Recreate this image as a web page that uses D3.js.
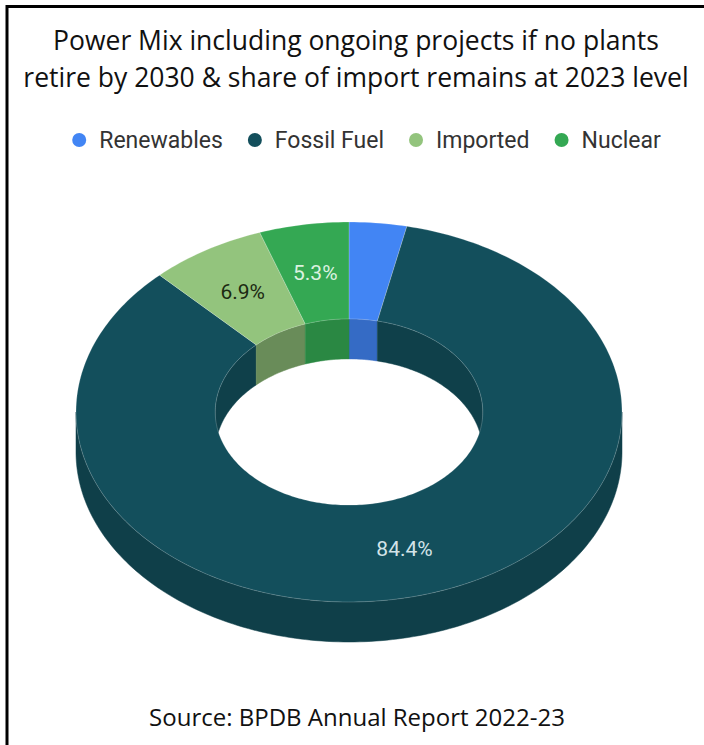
<!DOCTYPE html>
<html>
<head>
<meta charset="utf-8">
<script src="https://cdn.jsdelivr.net/npm/d3@7"></script>
<style>
  body { margin: 0; background: #fff; }
  svg { display: block; }
</style>
</head>
<body>
<div id="chart"></div>
<script>
// data
var categories = ["Renewables", "Fossil Fuel", "Imported", "Nuclear"];
var shares = [3.4, 84.4, 6.9, 5.3];
var titleLines = ["Power Mix including ongoing projects if no plants",
	"retire by 2030 & share of import remains at 2023 level"];
var sourceText = "Source: BPDB Annual Report 2022-23";

var colors = ["#4285f4", "#134f5c", "#93c47d", "#34a853"];
var labelColors = ["#ffffff", "#d3e4e8", "#1c2a12", "#dcf2e0"];

var W = 704, H = 745;
var cx = 349, cy = 412, rx = 273, ry = 190, hole = 0.49, depth = 40;

var svg = d3.select("#chart")
	.append("svg")
	.attr("width", W)
	.attr("height", H);

// frame (top + left)
svg.append("path")
	.attr("d", "M7,745 L7,6.5 L704,6.5")
	.attr("fill", "none")
	.attr("stroke", "#000")
	.attr("stroke-width", 3);

// title
svg.append("g").selectAll("text")
	.data(titleLines)
	.enter()
	.append("text")
	.attr("x", 356)
	.attr("y", function(d, i) { return 50 + i * 37; })
	.attr("text-anchor", "middle")
	.style("font-family", "'Open Sans', sans-serif")
	.style("font-size", "26.5px")
	.style("fill", "#111")
	.text(function(d) { return d; });

// legend
var color = d3.scaleOrdinal().domain(categories).range(colors);
var legend = svg.append("g").attr("class", "legend");
var lx = 0;
var items = legend.selectAll("g")
	.data(categories)
	.enter()
	.append("g");
items.append("circle")
	.attr("r", 7)
	.attr("cy", 0)
	.style("fill", function(d) { return color(d); });
items.append("text")
	.attr("x", 20)
	.attr("dy", "0.35em")
	.style("font-family", "Roboto, sans-serif")
	.style("font-size", "23px")
	.style("fill", "#333")
	.text(function(d) { return d; });
items.each(function() {
	var g = d3.select(this);
	var w = g.select("text").node().getComputedTextLength();
	g.attr("transform", "translate(" + lx + ",0)");
	lx += 20 + w + 32;
});
lx -= 32;
legend.attr("transform", "translate(" + (370 - lx / 2) + ",140)");

// pie geometry
var pie = d3.pie().sort(null).value(function(d) { return d; });
var arcs = pie(shares);

function pt(k, a, dy) {
	return [cx + rx * k * Math.sin(a), cy - ry * k * Math.cos(a) + (dy || 0)];
}
function arcPts(k, a0, a1, dy) {
	var n = Math.max(2, Math.ceil(Math.abs(a1 - a0) / 0.02));
	return d3.range(n + 1).map(function(i) {
		return pt(k, a0 + (a1 - a0) * i / n, dy);
	});
}
var line = d3.line();
function band(k, a0, a1, dy0, dy1, k2) {
	var p = arcPts(k, a0, a1, dy0).concat(arcPts(k2 === undefined ? k : k2, a1, a0, dy1));
	return line(p) + "Z";
}

var chart = svg.append("g");
var PI = Math.PI;

// outer side walls, front half
arcs.forEach(function(d, i) {
	var s = Math.max(d.startAngle, PI / 2), e = Math.min(d.endAngle, 3 * PI / 2);
	if (s < e) {
		chart.append("path")
			.attr("d", band(1, s, e, 0, depth))
			.style("fill", d3.color(colors[i]).darker(0.65))
			.style("stroke", d3.color(colors[i]).darker(0.65))
			.style("stroke-width", 0.5);
	}
});

// inner walls, back half of the hole
var backs = [[0, PI / 2], [3 * PI / 2, 2 * PI]];
arcs.forEach(function(d, i) {
	backs.forEach(function(r) {
		var s = Math.max(d.startAngle, r[0]), e = Math.min(d.endAngle, r[1]);
		if (s < e) {
			chart.append("path")
				.attr("d", band(hole, s, e, 0, depth))
				.style("fill", d3.color(colors[i]).darker(i == 2 ? 0.95 : 0.6))
				.style("stroke", d3.color(colors[i]).darker(i == 2 ? 0.95 : 0.6))
				.style("stroke-width", 0.5);
		}
	});
});

// top face
chart.selectAll(".slice")
	.data(arcs)
	.enter()
	.append("path")
	.attr("class", "slice")
	.attr("d", function(d) { return band(1, d.startAngle, d.endAngle, 0, 0, hole); })
	.style("fill", function(d, i) { return colors[i]; })
	.style("stroke", "rgba(255,255,255,0.25)")
	.style("stroke-width", 0.8);

// labels
chart.selectAll(".lbl")
	.data(arcs.filter(function(d) { return d.value >= 5; }))
	.enter()
	.append("text")
	.attr("class", "lbl")
	.attr("x", function(d) { return pt((1 + hole) / 2, (d.startAngle + d.endAngle) / 2)[0]; })
	.attr("y", function(d) { return pt((1 + hole) / 2, (d.startAngle + d.endAngle) / 2)[1]; })
	.attr("dy", "0.35em")
	.attr("text-anchor", "middle")
	.style("font-family", "Roboto, sans-serif")
	.style("font-size", "21px")
	.style("fill", function(d) { return labelColors[d.index]; })
	.text(function(d) { return d3.format(".1f")(d.value) + "%"; });

// source
svg.append("text")
	.attr("x", 357)
	.attr("y", 726)
	.attr("text-anchor", "middle")
	.style("font-family", "'Open Sans', sans-serif")
	.style("font-size", "24px")
	.style("fill", "#111")
	.text(sourceText);
</script>
</body>
</html>
